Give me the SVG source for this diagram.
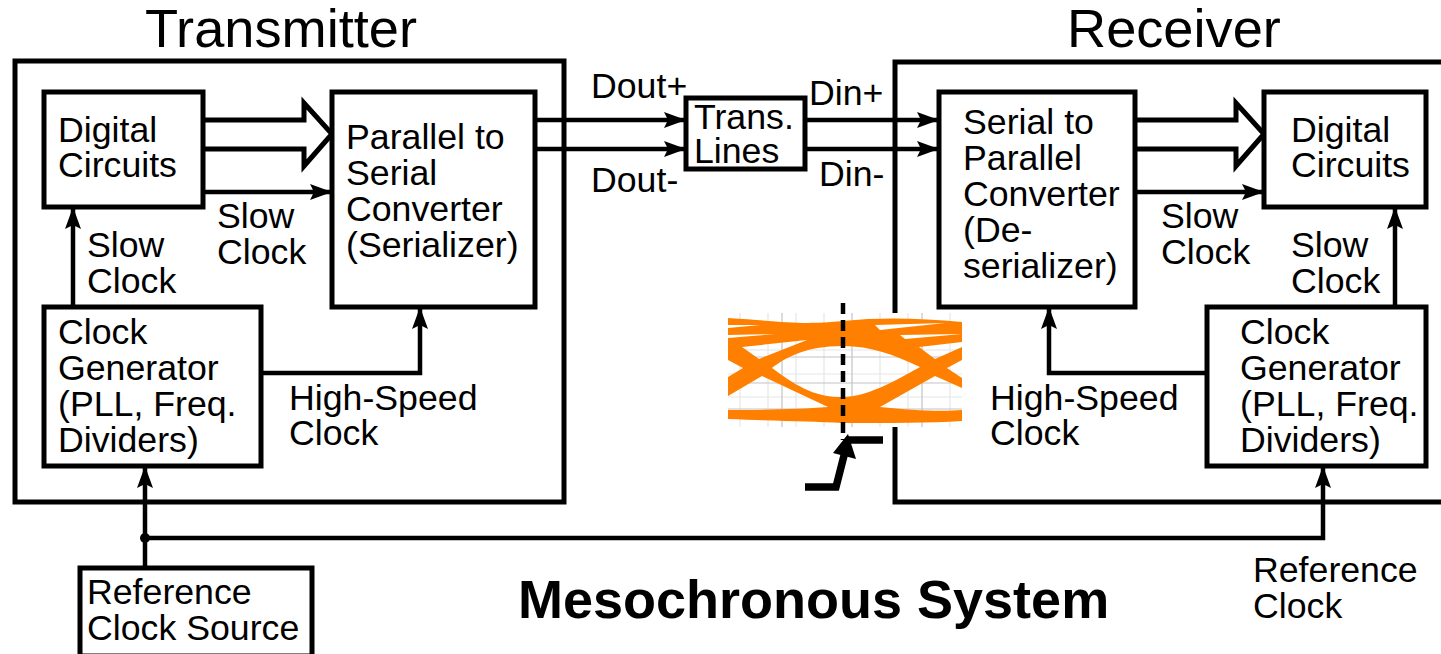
<svg xmlns="http://www.w3.org/2000/svg" width="1441" height="654" viewBox="0 0 1441 654">
<style>
text{font-family:"Liberation Sans",Arial,sans-serif;font-size:35.7px;fill:#000}
.t{font-size:54.2px}
.m{font-size:54px;font-weight:bold}
.b{fill:#fff;stroke:#000;stroke-width:5}
.f{fill:none;stroke:#000;stroke-width:5}
.w{fill:none;stroke:#000;stroke-width:4.5}
.g{stroke:#c4c4c4;stroke-width:1.2}
.g2{stroke:#e6e6e6;stroke-width:1.2}
</style>
<defs>
<marker id="a" markerUnits="userSpaceOnUse" markerWidth="24" markerHeight="16" refX="22" refY="8" orient="auto"><path d="M0 0L22 8L0 16L4 8Z" fill="#000"/></marker>
</defs>
<rect width="1441" height="654" fill="#fff"/>
<g id="transmitter"><rect class="b" x="15" y="61" width="549" height="441"/></g>
<g id="receiver"><path class="f" d="M1441 62H895V502H1441"/></g>
<g id="connectors">
<path class="w" d="M535 120H686" marker-end="url(#a)"/>
<path class="w" d="M535 149H686" marker-end="url(#a)"/>
<path class="w" d="M805 120H939" marker-end="url(#a)"/>
<path class="w" d="M805 149H939" marker-end="url(#a)"/>
<path class="w" d="M203 192H332" marker-end="url(#a)"/>
<path class="w" d="M1135 192H1264" marker-end="url(#a)"/>
<path class="w" d="M73 307V207" marker-end="url(#a)"/>
<path class="w" d="M1395 307V207" marker-end="url(#a)"/>
<path class="w" d="M261 373H420V307" marker-end="url(#a)"/>
<path class="w" d="M1207 373H1049V307" marker-end="url(#a)"/>
<path class="w" d="M145 568V466" marker-end="url(#a)"/>
<path class="w" d="M145 538H1323V466" marker-end="url(#a)"/>
<circle cx="145" cy="538" r="5" fill="#000"/>
<path class="b" d="M205 120H304V103L332 134L304 166V149H205"/>
<path class="b" d="M1135 120H1236V103L1264 134L1236 166V149H1135"/>
</g>
<g id="digital-tx"><rect class="b" x="44" y="92" width="159" height="115"/><text x="58" y="142">Digital</text><text x="58" y="177">Circuits</text></g>
<g id="serializer"><rect class="b" x="332" y="92" width="203" height="215"/><text x="346" y="149">Parallel to</text><text x="346" y="185">Serial</text><text x="346" y="221">Converter</text><text x="346" y="257">(Serializer)</text></g>
<g id="clockgen-tx"><rect class="b" x="44" y="307" width="217" height="159"/><text x="58" y="344">Clock</text><text x="58" y="380">Generator</text><text x="58" y="416">(PLL, Freq.</text><text x="58" y="452">Dividers)</text></g>
<g id="refsource"><rect class="b" x="80" y="568" width="232" height="88"/><text x="87" y="604">Reference</text><text x="87" y="640">Clock Source</text></g>
<g id="translines"><rect class="b" x="686" y="98" width="119" height="71"/><text x="694" y="129">Trans.</text><text x="694" y="163">Lines</text></g>
<g id="deserializer"><rect class="b" x="939" y="92" width="196" height="215"/><text x="963" y="134">Serial to</text><text x="963" y="170">Parallel</text><text x="963" y="206">Converter</text><text x="963" y="242">(De-</text><text x="963" y="278">serializer)</text></g>
<g id="digital-rx"><rect class="b" x="1264" y="92" width="162" height="115"/><text x="1291" y="142">Digital</text><text x="1291" y="177">Circuits</text></g>
<g id="clockgen-rx"><rect class="b" x="1207" y="307" width="219" height="159"/><text x="1240" y="344">Clock</text><text x="1240" y="380">Generator</text><text x="1240" y="416">(PLL, Freq.</text><text x="1240" y="452">Dividers)</text></g>
<g id="eye">
<rect x="728" y="313" width="234" height="114" fill="#fff"/>
<path class="g2" d="M740 313V427M768 313V427M796 313V427M824 313V427M880 313V427M908 313V427M950 313V427M728 327H962M728 350H962M728 374H962M728 397H962M728 418H962"/>
<path class="g" d="M782 313V427M852 313V427M922 313V427M728 357H962M728 383H962M728 409H962"/>
<path fill="#ff8000" fill-rule="evenodd" d="M728 318C790 322 800 325 843 321C880 317 920 318 962 322V342L919 347L935 359L962 347V360L947 368L962 378V388L935 376L880 407C910 410 940 412 962 410V421C930 423 890 423 843 423C810 421 780 421 728 419V410C770 410 800 409 828 407L762 376L728 396V377L743 368L728 360ZM742 347L759 359L807 340ZM772 368C785 358 805 346 843 346C870 346 895 355 920 367C905 375 870 397 843 397C815 398 795 385 772 368Z"/>
<path fill="#fff" d="M728 325H760L728 328ZM728 335L775 334L728 338ZM875 325L945 323L880 330ZM900 335L962 334L905 339Z"/>
</g>
<g id="clock-edge">
<path d="M843 303V440" fill="none" stroke="#000" stroke-width="4.5" stroke-dasharray="11 6"/>
<path d="M805 487H836L848 440" fill="none" stroke="#000" stroke-width="7.5"/>
<path d="M848 434L856 459L833 453Z" fill="#000"/>
<path d="M848 440H883" fill="none" stroke="#000" stroke-width="7.5"/>
</g>
<g id="labels">
<text class="t" x="145" y="47">Transmitter</text>
<text class="t" x="1067" y="47">Receiver</text>
<text x="87" y="257">Slow</text><text x="87" y="293">Clock</text>
<text x="217" y="228">Slow</text><text x="217" y="264">Clock</text>
<text x="289" y="410">High-Speed</text><text x="289" y="445">Clock</text>
<text x="591" y="98">Dout+</text><text x="591" y="192">Dout-</text>
<text x="809" y="105">Din+</text><text x="819" y="186">Din-</text>
<text x="1161" y="228">Slow</text><text x="1161" y="264">Clock</text>
<text x="1291" y="257">Slow</text><text x="1291" y="293">Clock</text>
<text x="990" y="410">High-Speed</text><text x="990" y="445">Clock</text>
<text x="1253" y="582">Reference</text><text x="1253" y="618">Clock</text>
<text class="m" x="518" y="618">Mesochronous System</text>
</g>
</svg>
